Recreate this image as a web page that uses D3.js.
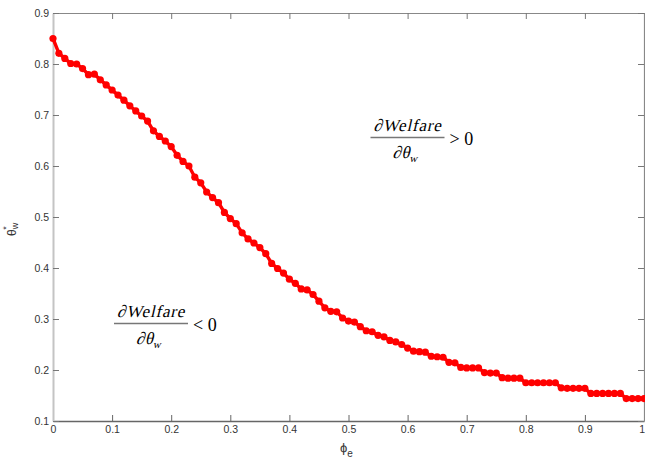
<!DOCTYPE html>
<html>
<head>
<meta charset="utf-8">
<script src="https://cdn.jsdelivr.net/npm/d3@7"></script>
<style>
  body { margin: 0; background: #fff; }
  .ejes text { font-family: "Liberation Sans", Arial, sans-serif; font-size: 10.5px; fill: #333; }
  .math { font-family: "Liberation Serif", "Times New Roman", serif; fill: #000; }
</style>
</head>
<body>
<div id="graf"></div>
<script>
// phi_e grid and theta_w* values
const phi = [
  0.00, 0.01, 0.02, 0.03, 0.04, 0.05, 0.06, 0.07, 0.08, 0.09,
  0.10, 0.11, 0.12, 0.13, 0.14, 0.15, 0.16, 0.17, 0.18, 0.19,
  0.20, 0.21, 0.22, 0.23, 0.24, 0.25, 0.26, 0.27, 0.28, 0.29,
  0.30, 0.31, 0.32, 0.33, 0.34, 0.35, 0.36, 0.37, 0.38, 0.39,
  0.40, 0.41, 0.42, 0.43, 0.44, 0.45, 0.46, 0.47, 0.48, 0.49,
  0.50, 0.51, 0.52, 0.53, 0.54, 0.55, 0.56, 0.57, 0.58, 0.59,
  0.60, 0.61, 0.62, 0.63, 0.64, 0.65, 0.66, 0.67, 0.68, 0.69,
  0.70, 0.71, 0.72, 0.73, 0.74, 0.75, 0.76, 0.77, 0.78, 0.79,
  0.80, 0.81, 0.82, 0.83, 0.84, 0.85, 0.86, 0.87, 0.88, 0.89,
  0.90, 0.91, 0.92, 0.93, 0.94, 0.95, 0.96, 0.97, 0.98, 0.99,
  1.00
]
const theta = [
  0.850, 0.821, 0.811, 0.801, 0.800, 0.791, 0.779, 0.780, 0.769, 0.759,
  0.749, 0.739, 0.729, 0.718, 0.708, 0.698, 0.688, 0.669, 0.658, 0.649,
  0.638, 0.621, 0.609, 0.600, 0.578, 0.567, 0.549, 0.538, 0.528, 0.509,
  0.497, 0.487, 0.469, 0.457, 0.449, 0.440, 0.428, 0.409, 0.399, 0.390,
  0.378, 0.370, 0.359, 0.357, 0.348, 0.335, 0.322, 0.315, 0.314, 0.302,
  0.296, 0.294, 0.285, 0.277, 0.275, 0.268, 0.265, 0.258, 0.255, 0.250,
  0.243, 0.237, 0.236, 0.235, 0.227, 0.226, 0.225, 0.215, 0.214, 0.205,
  0.204, 0.204, 0.204, 0.195, 0.194, 0.194, 0.185, 0.184, 0.184, 0.184,
  0.175, 0.175, 0.175, 0.175, 0.175, 0.175, 0.165, 0.164, 0.164, 0.164,
  0.164, 0.154, 0.154, 0.154, 0.154, 0.154, 0.154, 0.144, 0.144, 0.144,
  0.144
]
const xTicks = [0, 0.1, 0.2, 0.3, 0.4, 0.5, 0.6, 0.7, 0.8, 0.9, 1]
const xTickLabels = ["0", "0.1", "0.2", "0.3", "0.4", "0.5", "0.6", "0.7", "0.8", "0.9", "1"]
const yTicks = [0.1, 0.2, 0.3, 0.4, 0.5, 0.6, 0.7, 0.8, 0.9]
const yTickLabels = ["0.1", "0.2", "0.3", "0.4", "0.5", "0.6", "0.7", "0.8", "0.9"]

const anchoTotal = 645
const altoTotal = 460
const margins = { left: 53, top: 13, right: 1, bottom: 39 }
const ancho = anchoTotal - margins.left - margins.right
const alto = altoTotal - margins.top - margins.bottom

const svg = d3.select("#graf")
  .append("svg")
  .attr("width", anchoTotal)
  .attr("height", altoTotal)

const g = svg.append("g")
  .attr("transform", `translate(${margins.left}, ${margins.top})`)

const x = d3.scaleLinear().domain([0, 1]).range([0, ancho])
const y = d3.scaleLinear().domain([0.1, 0.9]).range([alto, 0])

// axes, ticks pointing inward like the matlab box
const xAxis = d3.axisBottom(x).tickValues(xTicks).tickSize(-6).tickSizeOuter(0)
  .tickPadding(5).tickFormat((d, i) => xTickLabels[i])
const yAxis = d3.axisLeft(y).tickValues(yTicks).tickSize(-6).tickSizeOuter(0)
  .tickPadding(4).tickFormat((d, i) => yTickLabels[i])
const topAxis = d3.axisTop(x).tickValues(xTicks).tickSize(-6).tickSizeOuter(0).tickFormat("")
const rightAxis = d3.axisRight(y).tickValues(yTicks).tickSize(-6).tickSizeOuter(0).tickFormat("")

const gx = g.append("g").attr("class", "ejes").attr("transform", `translate(0, ${alto})`).call(xAxis)
const gt = g.append("g").attr("class", "ejes").call(topAxis)
const gr = g.append("g").attr("class", "ejes").attr("transform", `translate(${ancho}, 0)`).call(rightAxis)
const gy = g.append("g").attr("class", "ejes").call(yAxis)

gx.select(".domain").attr("stroke", "#666").attr("stroke-width", 1.3)
gx.selectAll(".tick line").attr("stroke", "#666")
gt.select(".domain").attr("stroke", "#888").attr("stroke-width", 1.2)
gt.selectAll(".tick line").attr("stroke", "#777")
gr.select(".domain").attr("stroke", "#888").attr("stroke-width", 1.2)
gr.selectAll(".tick line").attr("stroke", "#777")
gy.select(".domain").attr("stroke", "#c4c4c4").attr("stroke-width", 2)
gy.selectAll(".tick line").attr("stroke", "#777")
gx.selectAll(".tick text").attr("dy", "0.71em")
gy.selectAll(".tick text").attr("dy", "0.35em")
// last label sits flush against the right edge
gx.selectAll(".tick text").filter((d) => d === 1).attr("text-anchor", "end").attr("x", 0.5)

// curve
const datos = phi.map((p, i) => ({ phi: p, theta: theta[i] }))
const linea = d3.line().x((d) => x(d.phi)).y((d) => y(d.theta))

g.append("path")
  .datum(datos)
  .attr("d", linea)
  .attr("fill", "none")
  .attr("stroke", "#ff0000")
  .attr("stroke-width", 3.4)

g.selectAll("circle")
  .data(datos)
  .enter()
  .append("circle")
  .attr("cx", (d) => x(d.phi))
  .attr("cy", (d) => y(d.theta))
  .attr("r", 3.6)
  .attr("fill", "#ff0000")

// axis titles
const xt = svg.append("text")
  .attr("x", 340)
  .attr("y", 452)
  .attr("font-family", "Liberation Sans, Arial, sans-serif")
  .attr("font-size", 13)
  .attr("fill", "#333")
xt.append("tspan").text("ϕ")
xt.append("tspan").attr("font-size", 10).attr("dy", 5).text("e")

const yt = svg.append("text")
  .attr("transform", "translate(16, 236) rotate(-90)")
  .attr("font-family", "Liberation Sans, Arial, sans-serif")
  .attr("font-size", 12)
  .attr("fill", "#333")
yt.append("tspan").text("θ")
yt.append("tspan").attr("font-size", 9).attr("dy", 1.5).text("w")
yt.append("tspan").attr("font-size", 9).attr("dx", -7).attr("dy", -9).text("*")

// welfare derivative annotations (serif regular slanted, the italic face is not installed)
const fraccion = (cx, barY, rel) => {
  svg.append("g")
    .attr("transform", `translate(${cx}, ${barY - 7}) skewX(-13)`)
    .append("text")
    .attr("class", "math")
    .attr("text-anchor", "middle")
    .attr("font-size", 17)
    .attr("letter-spacing", 0.8)
    .text("∂Welfare")

  svg.append("line")
    .attr("x1", cx - 37)
    .attr("x2", cx + 37)
    .attr("y1", barY)
    .attr("y2", barY)
    .attr("stroke", "#777")
    .attr("stroke-width", 1.4)

  const den = svg.append("g")
    .attr("transform", `translate(${cx - 15}, ${barY + 20}) skewX(-13)`)
    .append("text")
    .attr("class", "math")
    .attr("font-size", 17)
    .attr("letter-spacing", 0.6)
  den.append("tspan").text("∂θ")
  den.append("tspan").attr("font-size", 11).attr("dy", 4).text("w")

  svg.append("text")
    .attr("class", "math")
    .attr("x", cx + 42)
    .attr("y", barY + 7.5)
    .attr("font-size", 18)
    .text(rel)
}

fraccion(407.5, 137.5, "> 0")
fraccion(151, 323.5, "< 0")
</script>
</body>
</html>
